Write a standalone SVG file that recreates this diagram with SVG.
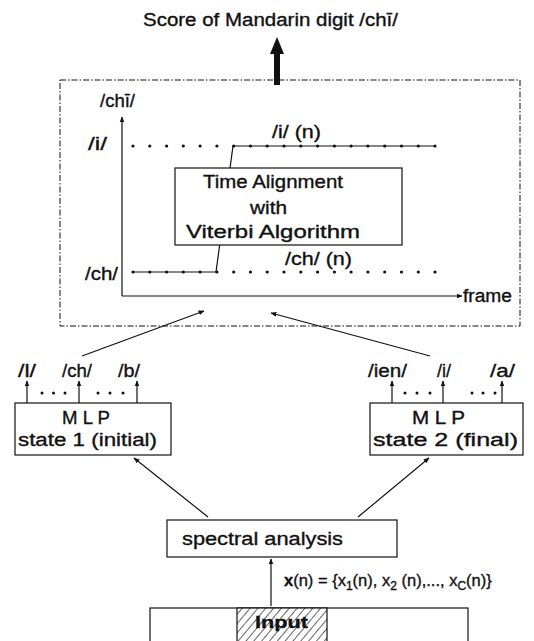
<svg xmlns="http://www.w3.org/2000/svg" width="534" height="641" viewBox="0 0 534 641">
<style>
text{font-family:"Liberation Sans",Arial,sans-serif;fill:#111;stroke:#111;stroke-width:0.35;}
.t{font-size:18px;}
.s{font-size:16.5px;}
.box{fill:#fff;stroke:#111;stroke-width:1.2;}
.ln{stroke:#111;stroke-width:1.2;fill:none;}
.dot{fill:#111;}
</style>
<defs>
<marker id="ah" viewBox="0 0 10 10" refX="9" refY="5" markerWidth="6" markerHeight="6" markerUnits="userSpaceOnUse" orient="auto">
<path d="M0,1 L10,5 L0,9 z" fill="#111"/>
</marker>
<pattern id="hatch" width="6" height="6" patternUnits="userSpaceOnUse" patternTransform="rotate(40)">
<rect width="6" height="6" fill="#fff"/>
<line x1="0" y1="0" x2="0" y2="6" stroke="#111" stroke-width="1.3"/>
</pattern>
</defs>

<g id="title">
<text class="t" x="143" y="26" textLength="255" lengthAdjust="spacingAndGlyphs">Score of Mandarin digit /chī/</text>
</g>

<g id="alignment-panel">
<rect x="60" y="80" width="460" height="246" fill="none" stroke="#111" stroke-width="1" stroke-dasharray="6,2,1.5,2"/>
<text class="t" x="100" y="107" textLength="35" lengthAdjust="spacingAndGlyphs">/chī/</text>
<text class="t" x="88" y="150" textLength="19" lengthAdjust="spacingAndGlyphs">/i/</text>
<text class="t" x="85" y="280" textLength="33" lengthAdjust="spacingAndGlyphs">/ch/</text>
<text class="t" x="272" y="138" textLength="49" lengthAdjust="spacingAndGlyphs">/i/  (n)</text>
<text class="t" x="285" y="265" textLength="67" lengthAdjust="spacingAndGlyphs">/ch/ (n)</text>
<text class="t" x="463" y="302" textLength="49" lengthAdjust="spacingAndGlyphs">frame</text>
<line class="ln" x1="122" y1="296" x2="122" y2="117" marker-end="url(#ah)"/>
<line class="ln" x1="122" y1="296" x2="462" y2="296" marker-end="url(#ah)"/>
<line class="ln" x1="233" y1="146" x2="435" y2="146"/>
<line class="ln" x1="133" y1="272" x2="216" y2="272"/>
<line class="ln" x1="233" y1="146" x2="216" y2="272"/>
<g class="dot">
<circle cx="133" cy="146" r="1.6"/><circle cx="149.8" cy="146" r="1.6"/><circle cx="166.6" cy="146" r="1.6"/><circle cx="183.3" cy="146" r="1.6"/><circle cx="200.1" cy="146" r="1.6"/><circle cx="216.9" cy="146" r="1.6"/><circle cx="233.7" cy="146" r="1.6"/><circle cx="250.5" cy="146" r="1.6"/><circle cx="267.2" cy="146" r="1.6"/><circle cx="284" cy="146" r="1.6"/><circle cx="300.8" cy="146" r="1.6"/><circle cx="317.6" cy="146" r="1.6"/><circle cx="334.4" cy="146" r="1.6"/><circle cx="351.1" cy="146" r="1.6"/><circle cx="367.9" cy="146" r="1.6"/><circle cx="384.7" cy="146" r="1.6"/><circle cx="401.5" cy="146" r="1.6"/><circle cx="418.3" cy="146" r="1.6"/><circle cx="435" cy="146" r="1.6"/>
<circle cx="133" cy="272" r="1.6"/><circle cx="149.8" cy="272" r="1.6"/><circle cx="166.6" cy="272" r="1.6"/><circle cx="183.3" cy="272" r="1.6"/><circle cx="200.1" cy="272" r="1.6"/><circle cx="216.9" cy="272" r="1.6"/><circle cx="233.7" cy="272" r="1.6"/><circle cx="250.5" cy="272" r="1.6"/><circle cx="267.2" cy="272" r="1.6"/><circle cx="284" cy="272" r="1.6"/><circle cx="300.8" cy="272" r="1.6"/><circle cx="317.6" cy="272" r="1.6"/><circle cx="334.4" cy="272" r="1.6"/><circle cx="351.1" cy="272" r="1.6"/><circle cx="367.9" cy="272" r="1.6"/><circle cx="384.7" cy="272" r="1.6"/><circle cx="401.5" cy="272" r="1.6"/><circle cx="418.3" cy="272" r="1.6"/><circle cx="435" cy="272" r="1.6"/>
</g>
</g>

<g id="viterbi">
<rect class="box" x="175" y="168" width="227" height="77"/>
<text class="t" x="203" y="188" textLength="140" lengthAdjust="spacingAndGlyphs">Time Alignment</text>
<text class="t" x="250" y="214" textLength="37" lengthAdjust="spacingAndGlyphs">with</text>
<text class="t" x="186" y="238" textLength="174" lengthAdjust="spacingAndGlyphs">Viterbi Algorithm</text>
</g>

<g id="mlp1">
<rect class="box" x="15" y="403" width="156" height="52"/>
<text class="t" x="62" y="424" textLength="48" lengthAdjust="spacingAndGlyphs">M L P</text>
<text class="t" x="18" y="446" textLength="139" lengthAdjust="spacingAndGlyphs">state 1 (initial)</text>
<text class="t" x="18" y="377" textLength="18" lengthAdjust="spacingAndGlyphs">/l/</text>
<text class="t" x="62" y="377" textLength="30" lengthAdjust="spacingAndGlyphs">/ch/</text>
<text class="t" x="118" y="377" textLength="22" lengthAdjust="spacingAndGlyphs">/b/</text>
<g class="dot">
<circle cx="42" cy="393" r="1.5"/><circle cx="53.5" cy="393" r="1.5"/><circle cx="65" cy="393" r="1.5"/>
<circle cx="98" cy="393" r="1.5"/><circle cx="110" cy="393" r="1.5"/><circle cx="123" cy="393" r="1.5"/>
</g>
</g>

<g id="mlp2">
<rect class="box" x="370" y="403" width="153" height="52"/>
<text class="t" x="412" y="424" textLength="53" lengthAdjust="spacingAndGlyphs">M L P</text>
<text class="t" x="373" y="446" textLength="145" lengthAdjust="spacingAndGlyphs">state 2  (final)</text>
<text class="t" x="368" y="377" textLength="39" lengthAdjust="spacingAndGlyphs">/ien/</text>
<text class="t" x="437" y="377" textLength="14" lengthAdjust="spacingAndGlyphs">/i/</text>
<text class="t" x="490" y="377" textLength="25" lengthAdjust="spacingAndGlyphs">/a/</text>
<g class="dot">
<circle cx="405" cy="393" r="1.5"/><circle cx="417" cy="393" r="1.5"/><circle cx="430" cy="393" r="1.5"/>
<circle cx="472" cy="393" r="1.5"/><circle cx="483" cy="393" r="1.5"/><circle cx="495" cy="393" r="1.5"/>
</g>
</g>

<g id="spectral">
<rect class="box" x="167" y="520" width="230" height="37"/>
<text class="t" x="182" y="545" textLength="161" lengthAdjust="spacingAndGlyphs">spectral  analysis</text>
</g>

<g id="input">
<rect x="150" y="608" width="318" height="50" fill="#fff" stroke="#111" stroke-width="1.2"/>
<rect x="237" y="608" width="90" height="40" fill="url(#hatch)" stroke="#111" stroke-width="1.2"/>
<text x="255" y="628" textLength="53" lengthAdjust="spacingAndGlyphs" style="font-size:17px;font-weight:bold;">Input</text>
</g>

<g id="formula">
<text class="s" x="284" y="586"><tspan font-weight="bold">x</tspan>(n) = {x<tspan font-size="12" dy="4">1</tspan><tspan dy="-4">(n), x</tspan><tspan font-size="12" dy="4">2</tspan><tspan dy="-4"> (n),..., x</tspan><tspan font-size="12" dy="4">C</tspan><tspan dy="-4">(n)}</tspan></text>
</g>

<g id="connectors">
<polygon points="277,37 270,54 284,54" fill="#111"/>
<rect x="274" y="53" width="6" height="32" fill="#111"/>
<line class="ln" x1="27" y1="403" x2="27" y2="381" marker-end="url(#ah)"/>
<line class="ln" x1="79" y1="403" x2="79" y2="381" marker-end="url(#ah)"/>
<line class="ln" x1="137" y1="403" x2="137" y2="381" marker-end="url(#ah)"/>
<line class="ln" x1="392" y1="403" x2="392" y2="381" marker-end="url(#ah)"/>
<line class="ln" x1="443" y1="403" x2="443" y2="381" marker-end="url(#ah)"/>
<line class="ln" x1="502" y1="403" x2="502" y2="381" marker-end="url(#ah)"/>
<line class="ln" x1="82" y1="356" x2="204" y2="311" marker-end="url(#ah)"/>
<line class="ln" x1="430" y1="356" x2="271" y2="313" marker-end="url(#ah)"/>
<line class="ln" x1="208" y1="517" x2="134" y2="458" marker-end="url(#ah)"/>
<line class="ln" x1="358" y1="517" x2="429" y2="458" marker-end="url(#ah)"/>
<line class="ln" x1="271" y1="606" x2="271" y2="559" marker-end="url(#ah)"/>
</g>
</svg>
